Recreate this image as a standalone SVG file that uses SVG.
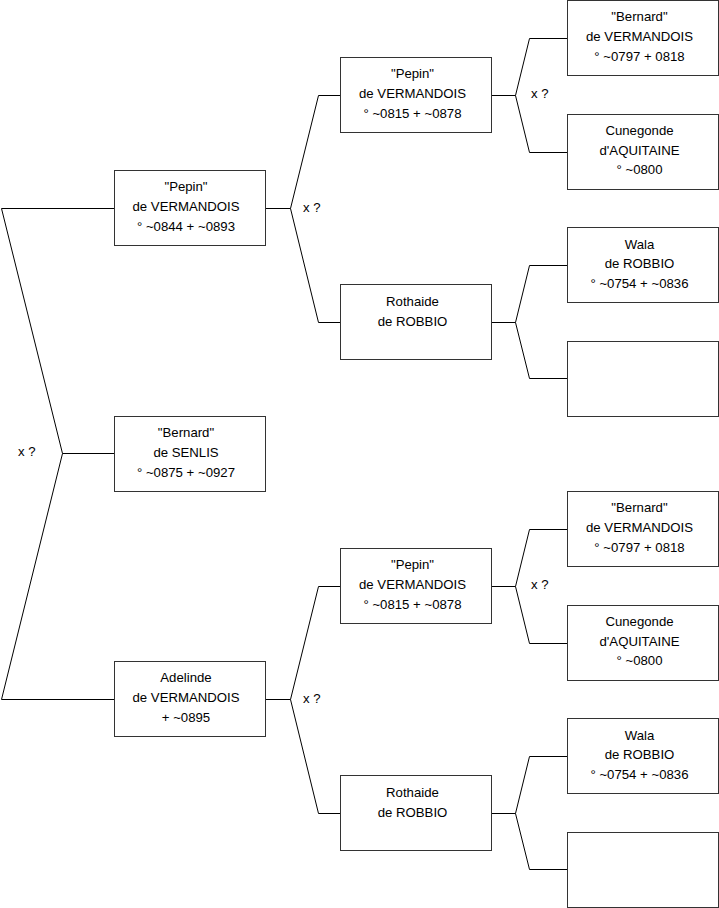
<svg xmlns="http://www.w3.org/2000/svg" width="719" height="908" viewBox="0 0 719 908">
<style>
.box{fill:#fff;stroke:#333;stroke-width:1}
.ln{fill:none;stroke:#000;stroke-width:1}
text{font-family:"Liberation Sans",Arial,sans-serif;font-size:13.2px;fill:#000;text-anchor:middle}
.lbl{text-anchor:start}
</style>
<rect width="719" height="908" fill="#fff"/>
<g id="connectors">
<polyline class="ln" points="114,208.5 1.5,208.5 62.5,453.5 1.5,699.5 114,699.5"/>
<line class="ln" x1="62.5" y1="453.5" x2="114" y2="453.5"/>
<polyline class="ln" points="340,95.5 318.5,95.5 290.5,208.5 318.5,322.5 340,322.5"/>
<line class="ln" x1="265" y1="208.5" x2="290.5" y2="208.5"/>
<polyline class="ln" points="340,586.5 318.5,586.5 290.5,699.5 318.5,813.5 340,813.5"/>
<line class="ln" x1="265" y1="699.5" x2="290.5" y2="699.5"/>
<polyline class="ln" points="567,38.5 529.5,38.5 515.5,95.5 529.5,152.5 567,152.5"/>
<line class="ln" x1="491" y1="95.5" x2="515.5" y2="95.5"/>
<polyline class="ln" points="567,265.5 529.5,265.5 515.5,322.5 529.5,378.5 567,378.5"/>
<line class="ln" x1="491" y1="322.5" x2="515.5" y2="322.5"/>
<polyline class="ln" points="567,529.5 529.5,529.5 515.5,586.5 529.5,643.5 567,643.5"/>
<line class="ln" x1="491" y1="586.5" x2="515.5" y2="586.5"/>
<polyline class="ln" points="567,756.5 529.5,756.5 515.5,813.5 529.5,869.5 567,869.5"/>
<line class="ln" x1="491" y1="813.5" x2="515.5" y2="813.5"/>
<text class="lbl" x="18" y="456">x ?</text>
<text class="lbl" x="303" y="212">x ?</text>
<text class="lbl" x="303" y="703">x ?</text>
<text class="lbl" x="531" y="98">x ?</text>
<text class="lbl" x="531" y="589">x ?</text>
</g>
<g id="n1"><rect class="box" x="114.5" y="170.5" width="151" height="75"/>
<text x="186" y="191">"Pepin"</text><text x="186" y="211">de VERMANDOIS</text><text x="186" y="230.5">° ~0844 + ~0893</text></g>
<g id="n2"><rect class="box" x="114.5" y="416.5" width="151" height="75"/>
<text x="186" y="437">"Bernard"</text><text x="186" y="457">de SENLIS</text><text x="186" y="476.5">° ~0875 + ~0927</text></g>
<g id="n3"><rect class="box" x="114.5" y="661.5" width="151" height="75"/>
<text x="186" y="682">Adelinde</text><text x="186" y="702">de VERMANDOIS</text><text x="186" y="721.5">+ ~0895</text></g>
<g id="n4"><rect class="box" x="340.5" y="57.5" width="151" height="75"/>
<text x="412.5" y="78">"Pepin"</text><text x="412.5" y="98">de VERMANDOIS</text><text x="412.5" y="117.5">° ~0815 + ~0878</text></g>
<g id="n5"><rect class="box" x="340.5" y="284.5" width="151" height="75"/>
<text x="412.5" y="306">Rothaide</text><text x="412.5" y="326">de ROBBIO</text></g>
<g id="n6"><rect class="box" x="340.5" y="548.5" width="151" height="75"/>
<text x="412.5" y="569">"Pepin"</text><text x="412.5" y="589">de VERMANDOIS</text><text x="412.5" y="608.5">° ~0815 + ~0878</text></g>
<g id="n7"><rect class="box" x="340.5" y="775.5" width="151" height="75"/>
<text x="412.5" y="797">Rothaide</text><text x="412.5" y="817">de ROBBIO</text></g>
<g id="n8"><rect class="box" x="567.5" y="0.5" width="151" height="75"/>
<text x="639.5" y="21">"Bernard"</text><text x="639.5" y="41">de VERMANDOIS</text><text x="639.5" y="60.5">° ~0797 + 0818</text></g>
<g id="n9"><rect class="box" x="567.5" y="114.5" width="151" height="75"/>
<text x="639.5" y="134.5">Cunegonde</text><text x="639.5" y="154.5">d'AQUITAINE</text><text x="639.5" y="174">° ~0800</text></g>
<g id="n10"><rect class="box" x="567.5" y="227.5" width="151" height="75"/>
<text x="639.5" y="248.5">Wala</text><text x="639.5" y="268">de ROBBIO</text><text x="639.5" y="287.5">° ~0754 + ~0836</text></g>
<g id="n11"><rect class="box" x="567.5" y="341.5" width="151" height="75"/></g>
<g id="n12"><rect class="box" x="567.5" y="491.5" width="151" height="75"/>
<text x="639.5" y="512">"Bernard"</text><text x="639.5" y="532">de VERMANDOIS</text><text x="639.5" y="551.5">° ~0797 + 0818</text></g>
<g id="n13"><rect class="box" x="567.5" y="605.5" width="151" height="75"/>
<text x="639.5" y="625.5">Cunegonde</text><text x="639.5" y="645.5">d'AQUITAINE</text><text x="639.5" y="665">° ~0800</text></g>
<g id="n14"><rect class="box" x="567.5" y="718.5" width="151" height="75"/>
<text x="639.5" y="739.5">Wala</text><text x="639.5" y="759">de ROBBIO</text><text x="639.5" y="778.5">° ~0754 + ~0836</text></g>
<g id="n15"><rect class="box" x="567.5" y="832.5" width="151" height="75"/></g>
</svg>
